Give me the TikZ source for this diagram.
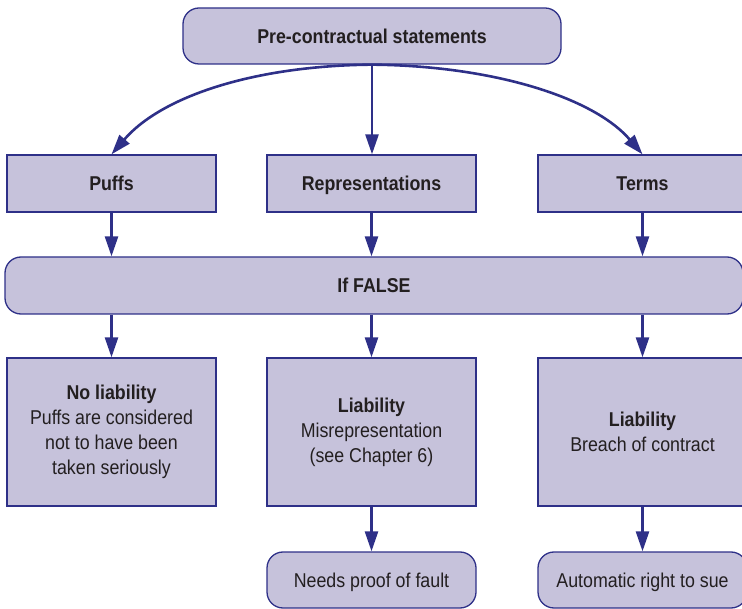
\documentclass[tikz,border=0pt]{standalone}
\usepackage{fontspec}
\setmainfont{Liberation Sans}[FakeStretch=0.89]
\usetikzlibrary{arrows.meta,calc}
\definecolor{boxfill}{HTML}{C6C2DB}
\definecolor{boxline}{HTML}{2E3088}
\definecolor{ink}{HTML}{231F20}
\begin{document}
\begin{tikzpicture}[x=1pt,y=-1pt,
  every node/.style={text=ink, font=\fontsize{20}{25}\selectfont, inner sep=0pt},
  sqbox/.style={draw=boxline, fill=boxfill, line width=1.3pt, align=center,
    minimum width=209pt},
  rbox/.style={sqbox, rounded corners=16pt},
  oneline/.style={text height=14.6pt, text depth=0pt},
  link/.style={draw=boxline, line width=2.6pt,
    -{Triangle[length=20pt,width=13pt]}}]
\useasboundingbox (0,0) rectangle (742,609);

% statements
\node[rbox, oneline, minimum width=378pt, minimum height=56pt] (top) at (372,36)
  {\bfseries Pre-contractual statements};

% kinds of statement
\node[sqbox, oneline, minimum height=57pt] (puffs) at (111.5,183.5) {\bfseries Puffs};
\node[sqbox, oneline, minimum height=57pt] (reps) at (371.5,183.5) {\bfseries Representations};
\node[sqbox, oneline, minimum height=57pt] (terms) at (642.5,183.5) {\bfseries Terms};

% falsity band
\node[rbox, oneline, minimum width=738pt, minimum height=57pt] (false) at (374,285.5)
  {\bfseries If FALSE};

% consequences
\node[sqbox, minimum height=148pt] (nolia) at (111.5,432)
  {{\bfseries No liability}\\Puffs are considered\\not to have been\\taken seriously};
\node[sqbox, minimum height=148pt] (misrep) at (371.5,432)
  {{\bfseries Liability}\\Misrepresentation\\(see Chapter 6)};
\node[sqbox, minimum height=148pt] (breach) at (642.5,432)
  {{\bfseries Liability}\\Breach of contract};

% remedies
\node[rbox, oneline, minimum height=56pt] (fault) at (371.5,580) {Needs proof of fault};
\node[rbox, oneline, minimum height=56pt] (sue) at (642.5,580) {Automatic right to sue};

% connectors
\draw[link] (top.south) .. controls ($(top.south)+(-118,1)$) and ($(puffs.north)+(50,-58)$) .. (puffs.north);
\draw[link] (top.south) .. controls ($(top.south)+(118,1)$) and ($(terms.north)+(-50,-58)$) .. (terms.north);
\draw[link] (top.south) -- (top.south |- reps.north);

\draw[link] (puffs.south) -- (puffs.south |- false.north);
\draw[link] (reps.south) -- (reps.south |- false.north);
\draw[link] (terms.south) -- (terms.south |- false.north);

\draw[link] (false.south -| nolia.north) -- (nolia.north);
\draw[link] (false.south -| misrep.north) -- (misrep.north);
\draw[link] (false.south -| breach.north) -- (breach.north);

\draw[link] (misrep.south) -- (fault.north);
\draw[link] (breach.south) -- (sue.north);
\end{tikzpicture}
\end{document}
